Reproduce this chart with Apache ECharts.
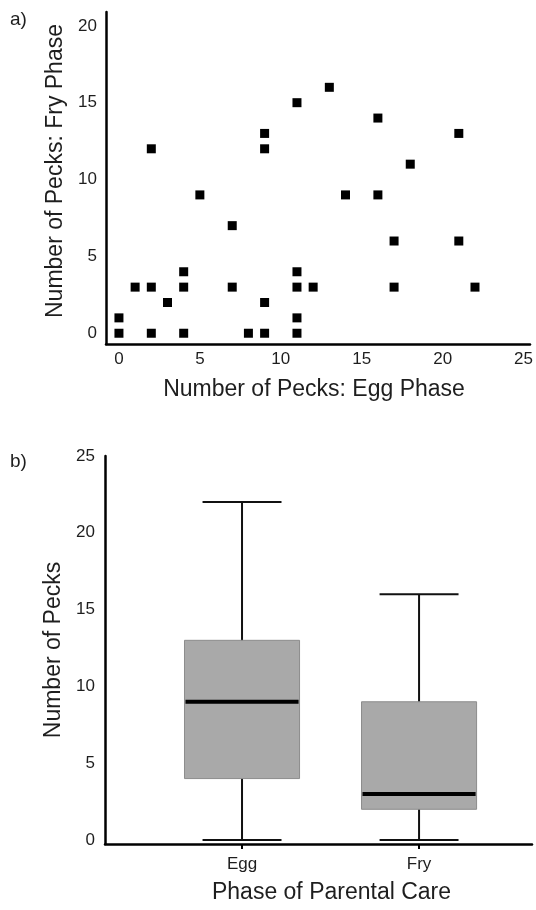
<!DOCTYPE html>
<html><head><meta charset="utf-8">
<script src="https://cdn.jsdelivr.net/npm/echarts@6/dist/echarts.min.js"></script>
<style>html,body{margin:0;padding:0;background:#fff}#c{width:536px;height:910px}</style>
</head><body><div id="c"></div>
<script>
// Panel a) scatter: pecks in egg phase vs fry phase (one entry per pair)
const eggPecks = [0,0,1,2,2,2,3,4,4,4,5,7,7,8,9,9,9,9,11,11,11,11,11,12,13,14,16,16,17,17,18,21,21,22];
const fryPecks = [0,1,3,3,0,12,2,4,3,0,9,7,3,0,13,12,2,0,15,4,3,1,0,3,16,9,14,9,6,3,11,13,6,3];
const scatterXTicks = [0,5,10,15,20,25];
const scatterYTicks = [0,5,10,15,20];

// Panel b) box plot: [min, Q1, median, Q3, max]
const phases = ['Egg','Fry'];
const eggBox = [0,4,9,13,22];
const fryBox = [0,2,3,9,16];
const boxYTicks = [0,5,10,15,20,25];

const FONT = "'Liberation Sans', Arial, sans-serif";
const TXT = '#1e1e1e';

const scatterData = eggPecks.map((e,i)=>[e, fryPecks[i]]);
const boxData = [eggBox, fryBox].map((b,i)=>[i+1, ...b]);

const chart = echarts.init(document.getElementById('c'), null, {renderer:'canvas'});

const axisLineStyle = {show:true, onZero:false, lineStyle:{color:'#000', width:2.5}};

chart.setOption({
  backgroundColor:'#fff',
  animation:false,
  textStyle:{fontFamily:FONT},
  graphic:[
    {type:'text', left:10, top:10, style:{text:'a)', fontSize:19, fill:TXT, fontFamily:FONT}},
    {type:'text', left:10, top:452, style:{text:'b)', fontSize:19, fill:TXT, fontFamily:FONT}}
  ],
  grid:[
    {left:106, right:3, top:12, height:332},
    {left:105, right:4, top:456, height:388}
  ],
  xAxis:[
    {gridIndex:0, type:'value', min:-0.8, max:25.4,
     axisLine:axisLineStyle, axisTick:{show:false}, splitLine:{show:false},
     axisLabel:{customValues:scatterXTicks, fontSize:17, color:TXT, margin:7, fontFamily:FONT},
     name:'Number of Pecks: Egg Phase', nameLocation:'middle', nameGap:34,
     nameTextStyle:{fontSize:23, color:TXT, fontFamily:FONT, padding:[0,8,0,0]}},
    {gridIndex:1, type:'value', min:0.226, max:2.638,
     axisLine:axisLineStyle,
     axisTick:{show:true, customValues:[1,2], length:5, lineStyle:{color:'#000', width:2}},
     splitLine:{show:false},
     axisLabel:{customValues:[1,2], formatter:v=>phases[Math.round(v)-1], fontSize:17, color:TXT, margin:12, fontFamily:FONT},
     name:'Phase of Parental Care', nameLocation:'middle', nameGap:37,
     nameTextStyle:{fontSize:23, color:TXT, fontFamily:FONT, padding:[0,0,0,26]}}
  ],
  yAxis:[
    {gridIndex:0, type:'value', min:-0.7, max:20.9,
     axisLine:axisLineStyle, axisTick:{show:false}, splitLine:{show:false},
     axisLabel:{customValues:scatterYTicks, fontSize:17, color:TXT, margin:9, fontFamily:FONT},
     name:'Number of Pecks: Fry Phase', nameLocation:'middle', nameGap:35,
     nameTextStyle:{fontSize:23, color:TXT, fontFamily:FONT, padding:[0,0,0,14]}},
    {gridIndex:1, type:'value', min:-0.26, max:25,
     axisLine:axisLineStyle, axisTick:{show:false}, splitLine:{show:false},
     axisLabel:{customValues:boxYTicks, fontSize:17, color:TXT, margin:10, fontFamily:FONT},
     name:'Number of Pecks', nameLocation:'middle', nameGap:39,
     nameTextStyle:{fontSize:23, color:TXT, fontFamily:FONT}}
  ],
  series:[
    {type:'scatter', xAxisIndex:0, yAxisIndex:0, data:scatterData,
     symbol:'rect', symbolSize:9, itemStyle:{color:'#000', opacity:1}},
    {type:'custom', xAxisIndex:1, yAxisIndex:1, data:boxData,
     encode:{x:0, y:[1,2,3,4,5]},
     renderItem:function(params, api){
       const x = api.value(0);
       const pMin = api.coord([x, api.value(1)]);
       const pQ1 = api.coord([x, api.value(2)]);
       const pMd = api.coord([x, api.value(3)]);
       const pQ3 = api.coord([x, api.value(4)]);
       const pMax = api.coord([x, api.value(5)]);
       const bw = api.size([0.65, 0])[0];
       const cw = api.size([0.446, 0])[0];
       const cx = pMin[0];
       const ws = {stroke:'#111', lineWidth:2};
       return {type:'group', children:[
         {type:'line', shape:{x1:cx, y1:pMin[1], x2:cx, y2:pMax[1]}, style:ws},
         {type:'line', shape:{x1:cx-cw/2, y1:pMax[1], x2:cx+cw/2, y2:pMax[1]}, style:ws},
         {type:'line', shape:{x1:cx-cw/2, y1:pMin[1], x2:cx+cw/2, y2:pMin[1]}, style:ws},
         {type:'rect', shape:{x:cx-bw/2, y:pQ3[1], width:bw, height:pQ1[1]-pQ3[1]},
          style:{fill:'#a9a9a9', stroke:'#8c8c8c', lineWidth:1}},
         {type:'line', shape:{x1:cx-bw/2+1, y1:pMd[1], x2:cx+bw/2-1, y2:pMd[1]}, style:{stroke:'#000', lineWidth:4}}
       ]};
     }}
  ]
});
</script>
</body></html>
